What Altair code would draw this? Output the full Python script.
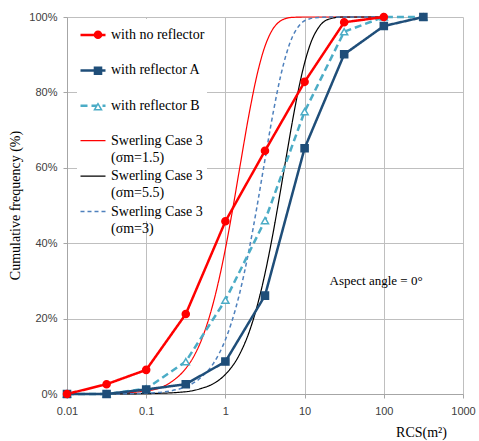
import altair as alt
import pandas as pd

# ---------------- data ----------------
series_names = ["with no reflector", "with reflector A", "with reflector B",
                "Swerling Case 3|(σm=1.5)", "Swerling Case 3|(σm=5.5)", "Swerling Case 3|(σm=3)"]
marker_series = series_names[:3]

meas_x = [0.01, 0.0316, 0.1, 0.316, 1, 3.16, 10, 31.6, 100, 316]
no_ref = [0, 2.6, 6.4, 21.2, 45.8, 64.5, 82.8, 98.6, 100]
ref_a = [0, 0, 1.2, 2.6, 8.6, 26.1, 65.2, 90.1, 97.6, 100]
ref_b = [0, 0, 1.4, 8.6, 24.9, 46.0, 74.9, 96.1, 100, 100]

s15_x = [0.01, 0.03, 0.1, 0.2, 0.3, 0.4, 0.5, 0.7, 1, 1.2, 1.5, 2, 2.5, 3, 4, 5, 6, 7, 10, 30, 100]
s15_y = [0, 0.1, 0.8, 3.0, 6.2, 10.0, 14.4, 24.0, 38.5, 47.5, 59.4, 74.5, 84.5, 90.8, 96.9, 99.0, 99.7, 99.9, 100, 100, 100]

s55_x = [0.01, 0.03, 0.1, 0.3, 0.5, 0.7, 1, 1.5, 2, 2.5, 3, 4, 5, 6, 7, 8, 10, 12, 15, 20, 30, 100]
s55_y = [0, 0, 0.1, 0.55, 1.5, 2.7, 5.2, 10.4, 16.5, 23.1, 29.8, 42.7, 54.3, 64.1, 72.2, 78.7, 87.8, 93.2, 97.2, 99.4, 100, 100]

s3_x = [0.01, 0.03, 0.1, 0.2, 0.3, 0.5, 0.7, 1, 1.2, 1.5, 2, 2.5, 3, 4, 5, 6, 7, 8, 10, 15, 30, 100]
s3_y = [0, 0, 0.2, 0.8, 1.75, 4.5, 8.0, 14.4, 19.1, 26.4, 38.5, 49.6, 59.4, 74.5, 84.5, 90.8, 94.7, 96.9, 99.0, 99.9, 100, 100]

x_ticks = [0.01, 0.1, 1, 10, 100, 1000]
y_ticks = [0, 20, 40, 60, 80, 100]

ann_text = ["Aspect angle = 0°"]
ann_x = [80]
ann_y = [30]

# ---------------- styles ----------------
line_colors = ["#FF0000", "#1F4E79", "#4BACC6", "#FF0000", "#000000", "#4F81BD"]
line_dashes = [[1, 0], [1, 0], [7, 4], [1, 0], [1, 0], [4, 3]]
line_widths = [2.5, 2.5, 2.5, 1.2, 1.2, 1.5]
marker_shapes = ["circle", "square", "triangle-up"]
marker_fills = ["#FF0000", "#1F4E79", "#FFFFFF"]
marker_strokes = ["#FF0000", "#1F4E79", "#4BACC6"]

# ---------------- tables ----------------
def long(name, xs, ys):
    return [{"series": name, "label2": "b:" + name, "x": x, "y": y} for x, y in zip(xs, ys)]

swer_rows = long(series_names[3], s15_x, s15_y) + long(series_names[4], s55_x, s55_y) + long(series_names[5], s3_x, s3_y)
meas_rows = (long(series_names[2], meas_x, ref_b) + long(series_names[1], meas_x, ref_a)
             + long(series_names[0], meas_x[:len(no_ref)], no_ref))
swer_df = pd.DataFrame(swer_rows)
meas_df = pd.DataFrame(meas_rows)
ann_df = pd.DataFrame({"x": ann_x, "y": ann_y, "t": ann_text})

SERIF = "Liberation Serif"
SANS = "Liberation Sans"
GRID = "#BFBFBF"

xenc = alt.X("x:Q", scale=alt.Scale(type="log", domain=[0.01, 1000], nice=False),
             axis=alt.Axis(values=x_ticks, format="~g", title="RCS(m²)",
                           titleFont=SERIF, titleFontSize=14, titleFontWeight="normal", titleColor="#000000",
                           titleX=354, titleY=38, titleAlign="center", titleBaseline="middle",
                           labelFont=SANS, labelFontSize=11, labelColor="#404040", labelPadding=7,
                           grid=True, gridColor=GRID, gridWidth=1, domainColor="#A6A6A6",
                           tickColor="#A6A6A6", tickSize=4, labelFlush=False))
yenc = alt.Y("y:Q", scale=alt.Scale(domain=[0, 100], nice=False),
             axis=alt.Axis(values=y_ticks, labelExpr="datum.value + '%'", title="Cumulative frequency (%)",
                           titleFont=SERIF, titleFontSize=14, titleFontWeight="normal", titleColor="#000000",
                           titleX=-52, titleY=188, titleAlign="center", titleBaseline="middle", titleAngle=270,
                           labelFont=SANS, labelFontSize=11, labelColor="#404040", labelPadding=6,
                           grid=True, gridColor=GRID, gridWidth=1, domainColor="#A6A6A6",
                           tickColor="#A6A6A6", tickSize=4))

leg1 = alt.Legend(orient="none", legendX=10, legendY=2, title=None, symbolType="stroke", symbolSize=625,
                  labelExpr="split(datum.label, '|')[0]", labelFont=SERIF, labelFontSize=14,
                  labelColor="#000000", rowPadding=14.4, padding=2, fillColor="#FFFFFF",
                  labelOffset=4, labelLimit=300)
leg3 = alt.Legend(orient="none", legendX=10, legendY=18.6, title=None, symbolType="stroke", symbolSize=625,
                  symbolStrokeColor="transparent", symbolStrokeWidth=2.5,
                  labelExpr="length(split(datum.label, '|')) > 1 ? split(datum.label, '|')[1] : ''",
                  labelFont=SERIF, labelFontSize=14, labelColor="#000000", rowPadding=14.4, padding=2,
                  labelOffset=4, labelLimit=300)
leg2 = alt.Legend(orient="none", legendX=20, legendY=6.7, title=None, symbolSize=50,
                  symbolStrokeWidth=1.5, labelExpr="''",
                  labelFont=SERIF, labelFontSize=14, rowPadding=22, padding=4, labelOffset=0, labelLimit=300)

label2_domain = ["b:" + n for n in series_names]

def line_enc(ch):
    return ch.encode(
        x=xenc, y=yenc,
        stroke=alt.Stroke("series:N", scale=alt.Scale(domain=series_names, range=line_colors), legend=leg1),
        strokeDash=alt.StrokeDash("series:N", scale=alt.Scale(domain=series_names, range=line_dashes), legend=leg1),
        strokeWidth=alt.StrokeWidth("series:N", scale=alt.Scale(type="ordinal", domain=series_names, range=line_widths), legend=leg1),
        opacity=alt.Opacity("label2:N", scale=alt.Scale(type="ordinal", domain=label2_domain, range=[1] * 6), legend=leg3),
        order=alt.Order("x:Q"),
    )

swer = line_enc(alt.Chart(swer_df).mark_line(interpolate="monotone"))
meas = line_enc(alt.Chart(meas_df).mark_line())
lines = alt.layer(swer, meas)

pts = alt.Chart(meas_df).transform_filter(
    alt.FieldOneOfPredicate(field="series", oneOf=marker_series)
).mark_point(filled=True, size=50, strokeWidth=1.5, opacity=1).encode(
    x=xenc, y=yenc,
    shape=alt.Shape("series:N", scale=alt.Scale(domain=marker_series, range=marker_shapes), legend=leg2),
    fill=alt.Fill("series:N", scale=alt.Scale(domain=marker_series, range=marker_fills), legend=leg2),
    stroke=alt.Stroke("series:N", scale=alt.Scale(domain=marker_series, range=marker_strokes), legend=leg2),
)

txt = alt.Chart(ann_df).mark_text(font=SERIF, fontSize=13, align="center", baseline="middle",
                                  color="#000000").encode(x=xenc, y=yenc, text="t:N")

chart = alt.layer(lines, pts, txt).resolve_scale(
    stroke="independent", strokeDash="independent", strokeWidth="independent",
    opacity="independent", fill="independent", shape="independent"
).properties(
    width=396, height=377,
    autosize=alt.AutoSizeParams(type="none"),
    padding={"left": 67, "top": 17, "right": 16, "bottom": 47},
    background="#FFFFFF",
).configure_view(strokeWidth=0)

chart.save("out.html", embed_options={"renderer": "svg", "actions": False})
